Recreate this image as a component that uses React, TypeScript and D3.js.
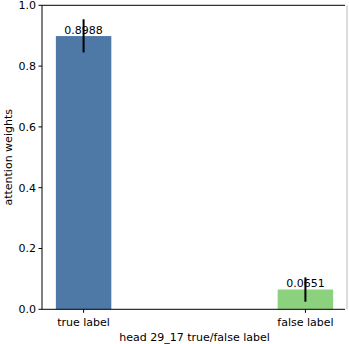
import React from 'react';
import * as d3 from 'd3';

const categories = ['true label', 'false label'];
const values = [0.8988, 0.0651];
const errLow = [0.845, 0.025];
const errHigh = [0.954, 0.105];
const colors = ['#4e79a7', '#8cd17d'];
const yTicks = [0, 0.2, 0.4, 0.6, 0.8, 1.0];

const W = 349, H = 344;
const left = 42, right = 347, top = 5.3, bottom = 309.3;

export default function App() {
  // matplotlib style: bars at 0,1 with width 0.25 and 5% margins
  const x = d3.scaleLinear().domain([-0.1875, 1.1875]).range([left, right]);
  const y = d3.scaleLinear().domain([0, 1]).range([bottom, top]);
  const bw = x(0.25) - x(0);
  const font = 'DejaVu Sans, sans-serif';

  return (
    <svg width={W} height={H} style={{ position: 'absolute', left: 0, top: 0 }}
      fontFamily={font} fontSize={11}>
      <rect width={W} height={H} fill="#fff" />
      {values.map((v, i) => (
        <rect key={'b' + i} x={x(i) - bw / 2} y={y(v)} width={bw} height={y(0) - y(v)} fill={colors[i]} />
      ))}
      {values.map((v, i) => (
        <text key={'t' + i} x={x(i)} y={y(v) - 2.5} textAnchor="middle" fill="#000">{v.toFixed(4)}</text>
      ))}
      {values.map((v, i) => (
        <line key={'e' + i} x1={x(i)} x2={x(i)} y1={y(errLow[i])} y2={y(errHigh[i])} stroke="#000" strokeWidth={2} />
      ))}
      {/* frame */}
      <line x1={left} x2={left} y1={top} y2={bottom} stroke="#000" strokeWidth={1} />
      <line x1={left} x2={right - 2} y1={bottom} y2={bottom} stroke="#000" strokeWidth={1} />
      <line x1={left} x2={right - 2} y1={top} y2={top} stroke="#000" strokeWidth={1} />
      <line x1={right} x2={right} y1={top} y2={bottom} stroke="#bbb" strokeWidth={1} />
      {yTicks.map(t => (
        <g key={'y' + t}>
          <line x1={left - 3.5} x2={left} y1={y(t)} y2={y(t)} stroke="#000" />
          <text x={left - 6} y={y(t)} dy="0.35em" textAnchor="end" fill="#000">{t.toFixed(1)}</text>
        </g>
      ))}
      {categories.map((c, i) => (
        <g key={'x' + i}>
          <line x1={x(i)} x2={x(i)} y1={bottom} y2={bottom + 3.5} stroke="#000" />
          <text x={x(i)} y={bottom + 17} textAnchor="middle" fill="#000">{c}</text>
        </g>
      ))}
      <text x={(left + right) / 2} y={341} textAnchor="middle" fill="#000">head 29_17 true/false label</text>
      <text transform={`translate(11.5,${(top + bottom) / 2}) rotate(-90)`} textAnchor="middle" fill="#000">attention weights</text>
    </svg>
  );
}
